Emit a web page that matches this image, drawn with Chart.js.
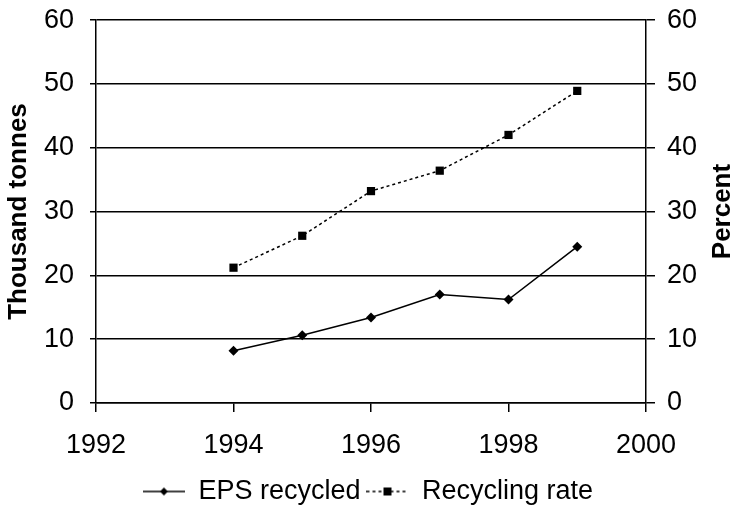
<!DOCTYPE html>
<html>
<head>
<meta charset="utf-8">
<script src="https://cdn.jsdelivr.net/npm/chart.js@4"></script>
<style>
html,body{margin:0;padding:0;background:#fff;}
#wrap{width:736px;height:510px;position:relative;}
</style>
</head>
<body>
<div id="wrap"><canvas id="c" width="736" height="510"></canvas></div>
<script>
const years = [1994, 1995, 1996, 1997, 1998, 1999];
const epsRecycled = [8.2, 10.6, 13.4, 17.0, 16.2, 24.5];
const recyclingRate = [21.2, 26.2, 33.2, 36.4, 42.0, 48.9];
const xTicks = [1992, 1994, 1996, 1998, 2000];
const yTicks = [0, 10, 20, 30, 40, 50, 60];
const seriesNames = ['EPS recycled', 'Recycling rate'];
const leftTitle = 'Thousand tonnes';
const rightTitle = 'Percent';

const FONT = "'Liberation Sans', Arial, sans-serif";

function legendIcon(dashed, marker) {
  const c = document.createElement('canvas');
  c.width = 42; c.height = 12;
  const g = c.getContext('2d');
  g.strokeStyle = '#000';
  g.lineWidth = 1.5;
  if (dashed) g.setLineDash([3, 3]);
  g.beginPath(); g.moveTo(0, 6); g.lineTo(42, 6); g.stroke();
  g.setLineDash([]);
  g.fillStyle = '#000';
  g.beginPath();
  if (marker === 'diamond') {
    g.moveTo(21, 2); g.lineTo(25, 6); g.lineTo(21, 10); g.lineTo(17, 6); g.closePath();
  } else {
    g.rect(17, 2, 8, 8);
  }
  g.fill();
  return c;
}
const icons = [legendIcon(false, 'diamond'), legendIcon(true, 'square')];

const toXY = vals => years.map((yr, i) => ({x: yr, y: vals[i]}));

// Right-axis title reads bottom-to-top, like the left one.
const rightTitlePlugin = {
  id: 'rightTitle',
  afterDraw(chart) {
    const {ctx, chartArea} = chart;
    ctx.save();
    ctx.translate(723, (chartArea.top + chartArea.bottom) / 2);
    ctx.rotate(-Math.PI / 2);
    ctx.font = "bold 26px " + FONT;
    ctx.fillStyle = '#000';
    ctx.textAlign = 'center';
    ctx.textBaseline = 'middle';
    ctx.fillText(rightTitle, 0, 0);
    ctx.restore();
  }
};

new Chart(document.getElementById('c'), {
  type: 'line',
  data: {
    datasets: [
      {
        label: seriesNames[0],
        data: toXY(epsRecycled),
        yAxisID: 'y',
        borderColor: '#000',
        backgroundColor: '#000',
        borderWidth: 1.5,
        pointStyle: 'rectRot',
        pointRadius: 5,
        pointBorderWidth: 0,
        tension: 0,
        fill: false
      },
      {
        label: seriesNames[1],
        data: toXY(recyclingRate),
        yAxisID: 'y2',
        borderColor: '#000',
        backgroundColor: '#000',
        borderWidth: 1.5,
        borderDash: [3, 3],
        pointStyle: 'rect',
        pointRadius: 5.8,
        pointBorderWidth: 0,
        tension: 0,
        fill: false
      }
    ]
  },
  plugins: [rightTitlePlugin],
  options: {
    responsive: false,
    animation: false,
    devicePixelRatio: 1,
    layout: {padding: {top: 0, left: 0, right: 0, bottom: -5}},
    plugins: {
      tooltip: {enabled: false},
      legend: {
        position: 'bottom',
        labels: {
          usePointStyle: true,
          pointStyleWidth: 42,
          boxHeight: 12,
          padding: 6,
          color: '#000',
          font: {family: FONT, size: 27},
          generateLabels(chart) {
            const items = Chart.defaults.plugins.legend.labels.generateLabels(chart);
            items.forEach((it, i) => { it.pointStyle = icons[i]; });
            return items;
          }
        }
      }
    },
    scales: {
      x: {
        type: 'linear',
        min: xTicks[0],
        max: xTicks[xTicks.length - 1],
        afterBuildTicks(s) { s.ticks = xTicks.map(v => ({value: v})); },
        afterFit(s) { s.height = 69; },
        ticks: {
          color: '#000',
          font: {family: FONT, size: 27},
          padding: 17,
          maxRotation: 0,
          callback: v => String(v)
        },
        grid: {drawOnChartArea: false, color: '#000', tickLength: 9, lineWidth: 1.5},
        border: {color: '#000', width: 1.5}
      },
      y: {
        position: 'left',
        min: 0, max: 60,
        afterBuildTicks(s) { s.ticks = yTicks.map(v => ({value: v})); },
        afterFit(s) { s.width = 96; },
        ticks: {color: '#000', font: {family: FONT, size: 27, lineHeight: 0.3}, padding: 16},
        grid: {color: '#000', lineWidth: 1.5, tickLength: 6},
        border: {color: '#000', width: 1.5},
        title: {
          display: true,
          text: leftTitle,
          color: '#000',
          font: {family: FONT, size: 26, weight: 'bold', lineHeight: 1},
          padding: {top: 6, bottom: 0}
        }
      },
      y2: {
        position: 'right',
        min: 0, max: 60,
        afterBuildTicks(s) { s.ticks = yTicks.map(v => ({value: v})); },
        afterFit(s) { s.width = 90; },
        ticks: {color: '#000', font: {family: FONT, size: 27, lineHeight: 0.3}, padding: 12},
        grid: {drawOnChartArea: false, color: '#000', lineWidth: 1.5, tickLength: 9},
        border: {color: '#000', width: 1.5},
        title: {display: false}
      }
    }
  }
});
</script>
</body>
</html>
